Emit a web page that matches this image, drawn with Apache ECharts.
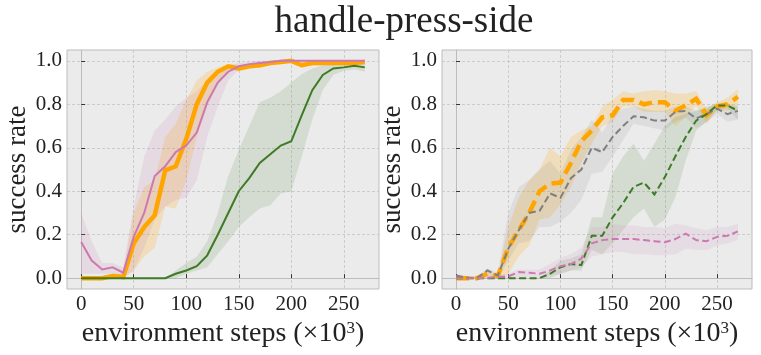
<!DOCTYPE html>
<html>
<head>
    <meta charset="utf-8">
    <title>handle-press-side</title>
    <script src="https://cdn.jsdelivr.net/npm/echarts@6/dist/echarts.min.js"></script>
    <style>
        html, body { margin: 0; padding: 0; background: #fff; }
        #main { width: 761px; height: 355px; }
    </style>
</head>
<body>
<div id="main"></div>
<script>
    // x positions (environment steps, x10^3)
    var steps = [0, 10, 20, 30, 40, 50, 60, 70, 80, 90, 100, 110, 120, 130, 140, 150, 160, 170, 180, 190, 200, 210, 220, 230, 240, 250, 260, 270];
    var xTicks = [0, 50, 100, 150, 200, 250];
    var yTicks = [0, 0.2, 0.4, 0.6, 0.8, 1.0];

    // left panel (solid lines)
    var leftOrange   = [0, 0, 0, 0.01, 0.005, 0.16, 0.235, 0.29, 0.496, 0.515, 0.64, 0.80, 0.90, 0.95, 0.975, 0.965, 0.975, 0.98, 0.99, 0.995, 1.0, 0.98, 0.99, 0.99, 0.99, 0.99, 0.99, 0.995];
    var leftOrangeLo = [0, 0, 0, 0, 0, 0.035, 0.1, 0.14, 0.33, 0.32, 0.45, 0.65, 0.79, 0.89, 0.96, 0.95, 0.965, 0.97, 0.98, 0.985, 0.99, 0.97, 0.98, 0.98, 0.98, 0.98, 0.98, 0.985];
    var leftOrangeHi = [0.01, 0.01, 0.01, 0.02, 0.02, 0.30, 0.42, 0.45, 0.65, 0.71, 0.82, 0.91, 0.95, 0.97, 0.985, 0.98, 0.985, 0.99, 1.0, 1.0, 1.0, 0.995, 1.0, 1.0, 1.0, 1.0, 1.0, 1.0];

    var leftPink   = [0.166, 0.081, 0.04, 0.05, 0.025, 0.19, 0.30, 0.47, 0.515, 0.58, 0.61, 0.67, 0.81, 0.90, 0.95, 0.975, 0.985, 0.99, 0.995, 1.0, 1.0, 1.0, 1.0, 1.0, 1.0, 1.0, 1.0, 1.0];
    var leftPinkLo = [0.02, 0.02, 0.02, 0.02, 0.005, 0.035, 0.14, 0.27, 0.33, 0.36, 0.37, 0.45, 0.65, 0.79, 0.91, 0.96, 0.975, 0.98, 0.99, 0.995, 1.0, 1.0, 1.0, 1.0, 1.0, 1.0, 1.0, 1.0];
    var leftPinkHi = [0.30, 0.17, 0.07, 0.07, 0.05, 0.33, 0.56, 0.68, 0.73, 0.79, 0.83, 0.86, 0.91, 0.95, 0.98, 0.99, 0.995, 1.0, 1.0, 1.0, 1.0, 1.0, 1.0, 1.0, 1.0, 1.0, 1.0, 1.0];

    var leftGreen   = [0, 0, 0, 0, 0, 0, 0, 0, 0, 0.02, 0.035, 0.055, 0.105, 0.20, 0.30, 0.40, 0.46, 0.53, 0.57, 0.61, 0.63, 0.75, 0.865, 0.935, 0.965, 0.97, 0.977, 0.97];
    var leftGreenLo = [0, 0, 0, 0, 0, 0, 0, 0, 0, 0, 0.02, 0.035, 0.05, 0.11, 0.17, 0.235, 0.28, 0.32, 0.335, 0.39, 0.40, 0.56, 0.73, 0.865, 0.935, 0.955, 0.96, 0.95];
    var leftGreenHi = [0, 0, 0, 0, 0, 0, 0, 0, 0, 0.035, 0.07, 0.10, 0.17, 0.30, 0.47, 0.59, 0.70, 0.81, 0.83, 0.86, 0.90, 0.94, 0.965, 0.98, 0.99, 0.99, 0.99, 0.985];

    // right panel (dashed lines)
    var rightOrange   = [0.0, 0.0, 0.0, 0.02, 0.01, 0.14, 0.22, 0.30, 0.40, 0.435, 0.44, 0.53, 0.63, 0.68, 0.74, 0.75, 0.82, 0.82, 0.80, 0.81, 0.81, 0.77, 0.795, 0.825, 0.75, 0.79, 0.80, 0.835];
    var rightOrangeLo = [0, 0, 0, 0.01, 0, 0.02, 0.10, 0.15, 0.27, 0.28, 0.34, 0.42, 0.53, 0.62, 0.70, 0.72, 0.79, 0.79, 0.765, 0.765, 0.765, 0.70, 0.74, 0.795, 0.71, 0.77, 0.77, 0.795];
    var rightOrangeHi = [0.01, 0.01, 0.01, 0.03, 0.02, 0.235, 0.37, 0.45, 0.50, 0.60, 0.56, 0.65, 0.68, 0.70, 0.79, 0.82, 0.86, 0.85, 0.86, 0.865, 0.86, 0.85, 0.85, 0.86, 0.78, 0.81, 0.83, 0.87];

    var rightGray   = [0.012, 0.002, 0.0, 0.035, 0.012, 0.135, 0.22, 0.30, 0.31, 0.39, 0.37, 0.46, 0.50, 0.60, 0.58, 0.65, 0.70, 0.745, 0.74, 0.725, 0.725, 0.765, 0.77, 0.735, 0.755, 0.78, 0.755, 0.77];
    var rightGrayLo = [0.002, 0, 0, 0.012, 0, 0.08, 0.16, 0.17, 0.235, 0.235, 0.26, 0.30, 0.36, 0.48, 0.49, 0.56, 0.635, 0.71, 0.70, 0.69, 0.68, 0.72, 0.74, 0.69, 0.72, 0.755, 0.72, 0.73];
    var rightGrayHi = [0.02, 0.01, 0.01, 0.045, 0.025, 0.30, 0.42, 0.45, 0.50, 0.54, 0.48, 0.59, 0.65, 0.73, 0.67, 0.75, 0.78, 0.79, 0.78, 0.77, 0.77, 0.79, 0.79, 0.77, 0.79, 0.80, 0.78, 0.795];

    var rightGreen   = [0, 0, 0, 0, 0, 0, 0, 0, 0, 0.02, 0.05, 0.065, 0.06, 0.195, 0.195, 0.28, 0.345, 0.42, 0.44, 0.385, 0.465, 0.56, 0.65, 0.725, 0.755, 0.795, 0.795, 0.77];
    var rightGreenLo = [0, 0, 0, 0, 0, 0, 0, 0, 0, 0, 0.02, 0.035, 0.035, 0.13, 0.11, 0.16, 0.22, 0.28, 0.32, 0.235, 0.27, 0.37, 0.54, 0.68, 0.72, 0.775, 0.78, 0.73];
    var rightGreenHi = [0, 0, 0, 0, 0, 0, 0, 0, 0, 0.035, 0.08, 0.09, 0.11, 0.28, 0.28, 0.48, 0.56, 0.62, 0.54, 0.62, 0.70, 0.74, 0.755, 0.77, 0.78, 0.805, 0.805, 0.79];

    var rightPink   = [0.0, 0.0, 0.0, 0.002, 0.005, 0.008, 0.028, 0.025, 0.02, 0.035, 0.055, 0.065, 0.09, 0.16, 0.175, 0.18, 0.18, 0.18, 0.175, 0.17, 0.165, 0.18, 0.205, 0.175, 0.17, 0.19, 0.195, 0.215];
    var rightPinkLo = [0, 0, 0, 0, 0, 0.002, 0.005, 0.005, 0.002, 0.012, 0.02, 0.035, 0.05, 0.10, 0.11, 0.12, 0.12, 0.11, 0.11, 0.105, 0.105, 0.11, 0.135, 0.13, 0.13, 0.15, 0.16, 0.175];
    var rightPinkHi = [0.005, 0.005, 0.005, 0.01, 0.015, 0.02, 0.04, 0.04, 0.04, 0.065, 0.095, 0.11, 0.14, 0.235, 0.235, 0.25, 0.243, 0.243, 0.235, 0.235, 0.23, 0.25, 0.243, 0.23, 0.22, 0.235, 0.235, 0.25];

    var ORANGE = '#ffa500';
    var PINK = '#cc79b0';
    var GREEN = '#3f7a27';
    var GRAY = '#808080';
    var FONT = 'Liberation Serif';

    function pairs(ys) {
        return steps.map(function (x, i) { return [x, ys[i]]; });
    }

    // shaded band between lo and hi, placed through the axis scales
    function band(gi, lo, hi, color, alpha) {
        return {
            type: 'custom', xAxisIndex: gi, yAxisIndex: gi, silent: true, z: 1,
            data: [[steps[0], lo[0]]],
            renderItem: function (params, api) {
                var pts = [];
                for (var i = 0; i < steps.length; i++) pts.push(api.coord([steps[i], hi[i]]));
                for (var j = steps.length - 1; j >= 0; j--) pts.push(api.coord([steps[j], lo[j]]));
                return {
                    type: 'polygon', shape: { points: pts },
                    style: { fill: echarts.color.modifyAlpha(color, alpha), stroke: null }
                };
            }
        };
    }
    function curve(gi, ys, color, width, dash, z) {
        return {
            type: 'line', xAxisIndex: gi, yAxisIndex: gi, symbol: 'none',
            lineStyle: { color: color, width: width, type: dash || 'solid', cap: 'butt', join: 'miter' },
            data: pairs(ys), z: z
        };
    }

    function xAx(gi) {
        return {
            type: 'value', gridIndex: gi, min: -13.5, max: 283.5,
            name: 'environment steps (×10{sup|3})', nameLocation: 'middle', nameGap: 12,
            nameTextStyle: {
                fontFamily: FONT, fontSize: 28, color: '#222',
                rich: { sup: { fontFamily: FONT, fontSize: 17, color: '#222', verticalAlign: 'top', padding: [0, 0, 10, 0] } }
            },
            axisLine: { show: true, lineStyle: { color: '#bcbcbc', width: 1 } },
            axisTick: { show: true, inside: true, length: 4, customValues: xTicks, lineStyle: { color: '#333', width: 1 } },
            axisLabel: { customValues: xTicks, margin: 5, fontFamily: FONT, fontSize: 21, color: '#222' },
            splitLine: { show: true, lineStyle: { color: '#c4c4c4', width: 0.8, type: [3, 2] } }
        };
    }
    function yAx(gi, gap) {
        return {
            type: 'value', gridIndex: gi, min: -0.05, max: 1.05,
            name: 'success rate', nameLocation: 'middle', nameGap: gap,
            nameTextStyle: { fontFamily: FONT, fontSize: 27, color: '#222' },
            axisLine: { show: true, lineStyle: { color: '#bcbcbc', width: 1 } },
            axisTick: { show: true, inside: true, length: 4, customValues: yTicks, lineStyle: { color: '#333', width: 1 } },
            axisLabel: {
                customValues: yTicks, margin: 5, fontFamily: FONT, fontSize: 21, color: '#222',
                formatter: function (v) { return v.toFixed(1); }
            },
            splitLine: { show: true, lineStyle: { color: '#c4c4c4', width: 0.8, type: [3, 2] } }
        };
    }

    var series = [
        band(0, leftOrangeLo, leftOrangeHi, ORANGE, 0.2),
        band(0, leftPinkLo, leftPinkHi, PINK, 0.15),
        band(0, leftGreenLo, leftGreenHi, GREEN, 0.13),
        curve(0, leftOrange, ORANGE, 4.5, null, 3),
        curve(0, leftPink, PINK, 2, null, 4),
        curve(0, leftGreen, GREEN, 2, null, 5),
        band(1, rightOrangeLo, rightOrangeHi, ORANGE, 0.2),
        band(1, rightGrayLo, rightGrayHi, GRAY, 0.13),
        band(1, rightGreenLo, rightGreenHi, GREEN, 0.13),
        band(1, rightPinkLo, rightPinkHi, PINK, 0.13),
        curve(1, rightOrange, ORANGE, 4.5, [13, 6], 3),
        curve(1, rightGray, GRAY, 2, [7, 3.5], 4),
        curve(1, rightGreen, GREEN, 2, [7, 3.5], 5),
        curve(1, rightPink, PINK, 2, [7, 3.5], 6)
    ];

    var chart = echarts.init(document.getElementById('main'), null, { renderer: 'canvas' });
    chart.setOption({
        animation: false,
        backgroundColor: '#ffffff',
        title: {
            text: 'handle-press-side', left: 399, top: -1, textAlign: 'center',
            textStyle: { fontFamily: FONT, fontSize: 37, fontWeight: 'normal', color: '#222' }
        },
        grid: [
            { left: 67, top: 50, width: 312, height: 239, show: true, backgroundColor: '#ebebeb', borderColor: '#bcbcbc', borderWidth: 1 },
            { left: 442, top: 50, width: 310, height: 239, show: true, backgroundColor: '#ebebeb', borderColor: '#bcbcbc', borderWidth: 1 }
        ],
        xAxis: [xAx(0), xAx(1)],
        yAxis: [yAx(0, 36), yAx(1, 33)],
        series: series
    });
</script>
</body>
</html>
